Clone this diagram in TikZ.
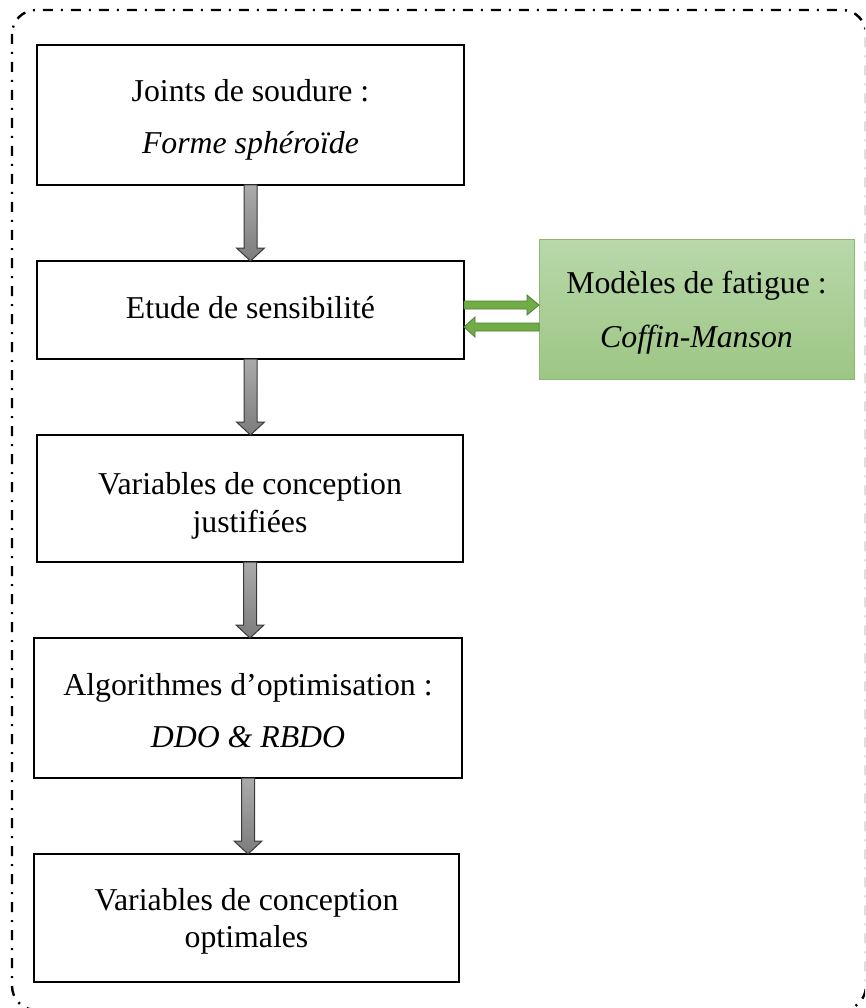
\documentclass[tikz,border=0pt]{standalone}
\usepackage{fontspec}
\setmainfont{Liberation Serif}
\usetikzlibrary{calc}
\definecolor{agtop}{HTML}{ABABAB}
\definecolor{agbot}{HTML}{7C7C7C}
\definecolor{agline}{HTML}{3A3A3A}
\definecolor{gtop}{HTML}{B8D8AA}
\definecolor{gbot}{HTML}{9DC684}
\definecolor{gline}{HTML}{8CB870}
\definecolor{garfill}{HTML}{70AD47}
\definecolor{garline}{HTML}{507E32}
\tikzset{
  stepbox/.style={draw=black, line width=2.2pt, fill=white, inner sep=0pt, outer sep=0pt},
  greenbox/.style={draw=gline, line width=1pt, top color=gtop, bottom color=gbot, inner sep=0pt, outer sep=0pt},
  txt/.style={anchor=base, inner sep=0pt, font=\fontsize{31.8}{37}\selectfont},
  grayar/.style={draw=agline, line width=1pt, top color=agtop, bottom color=agbot},
  greenar/.style={draw=garline, line width=0.8pt, fill=garfill},
  outer/.style={draw=black, line width=2.4pt, dash pattern=on 10pt off 8pt on 2pt off 8pt, rounded corners=24pt}
}
\newcommand\grayarrow[2]{%
  \path[grayar] let \p1=(#1.south), \p2=(#2.north) in
    (\x1-6.5pt,\y1) -- (\x1+6.5pt,\y1) -- (\x1+6.5pt,\y2+13pt) -- (\x1+14pt,\y2+13pt)
    -- (\x1,\y2) -- (\x1-14pt,\y2+13pt) -- (\x1-6.5pt,\y2+13pt) -- cycle;}
\begin{document}
\begin{tikzpicture}[x=1pt, y=-1pt]
\useasboundingbox (0,0) rectangle (865,1008);
\clip (0,0) rectangle (865,1008);
\draw[outer] (12,10) rectangle (866,1010);

% boxes
\node[stepbox, minimum width=427pt, minimum height=140pt] (b1) at (250.5,115) {};
\node[stepbox, minimum width=427pt, minimum height=98pt] (b2) at (250.5,310) {};
\node[stepbox, minimum width=426pt, minimum height=127pt] (b3) at (250,498.5) {};
\node[stepbox, minimum width=428pt, minimum height=140pt] (b4) at (248,708) {};
\node[stepbox, minimum width=425pt, minimum height=128pt] (b5) at (246.5,918) {};
\node[greenbox, minimum width=315pt, minimum height=140pt] (g) at (696.5,309) {};

% texts
\node[txt] (t1a) at (250.5,102) {Joints de soudure :};
\node[txt] (t1b) at (250.5,154) {\itshape Forme sphéroïde};
\node[txt] (t2) at (250.5,318) {Etude de sensibilité};
\node[txt] (t3a) at (250,494) {Variables de conception};
\node[txt] (t3b) at (250,532) {justifiées};
\node[txt] (t4a) at (248,695) {Algorithmes d’optimisation :};
\node[txt] (t4b) at (248,747) {\itshape DDO \& RBDO};
\node[txt] (t5a) at (246.5,910) {Variables de conception};
\node[txt] (t5b) at (246.5,947) {optimales};
\node[txt] (tga) at (696.5,293) {Modèles de fatigue :};
\node[txt] (tgb) at (696.5,347) {\itshape Coffin-Manson};

% gray arrows
\grayarrow{b1}{b2}
\grayarrow{b2}{b3}
\grayarrow{b3}{b4}
\grayarrow{b4}{b5}

% green arrows
\path[greenar] let \p1=(b2.east), \p2=(g.west) in
  (\x1,\y1+1pt) -- (\x2-12pt,\y1+1pt) -- (\x2-12pt,\y1-5pt) -- (\x2,\y1+5pt)
  -- (\x2-12pt,\y1+15pt) -- (\x2-12pt,\y1+9pt) -- (\x1,\y1+9pt) -- cycle;
\path[greenar] let \p1=(b2.east), \p2=(g.west) in
  (\x2,\y1-13pt) -- (\x1+11pt,\y1-13pt) -- (\x1+11pt,\y1-7pt) -- (\x1,\y1-17pt)
  -- (\x1+11pt,\y1-27pt) -- (\x1+11pt,\y1-21pt) -- (\x2,\y1-21pt) -- cycle;
\end{tikzpicture}
\end{document}
